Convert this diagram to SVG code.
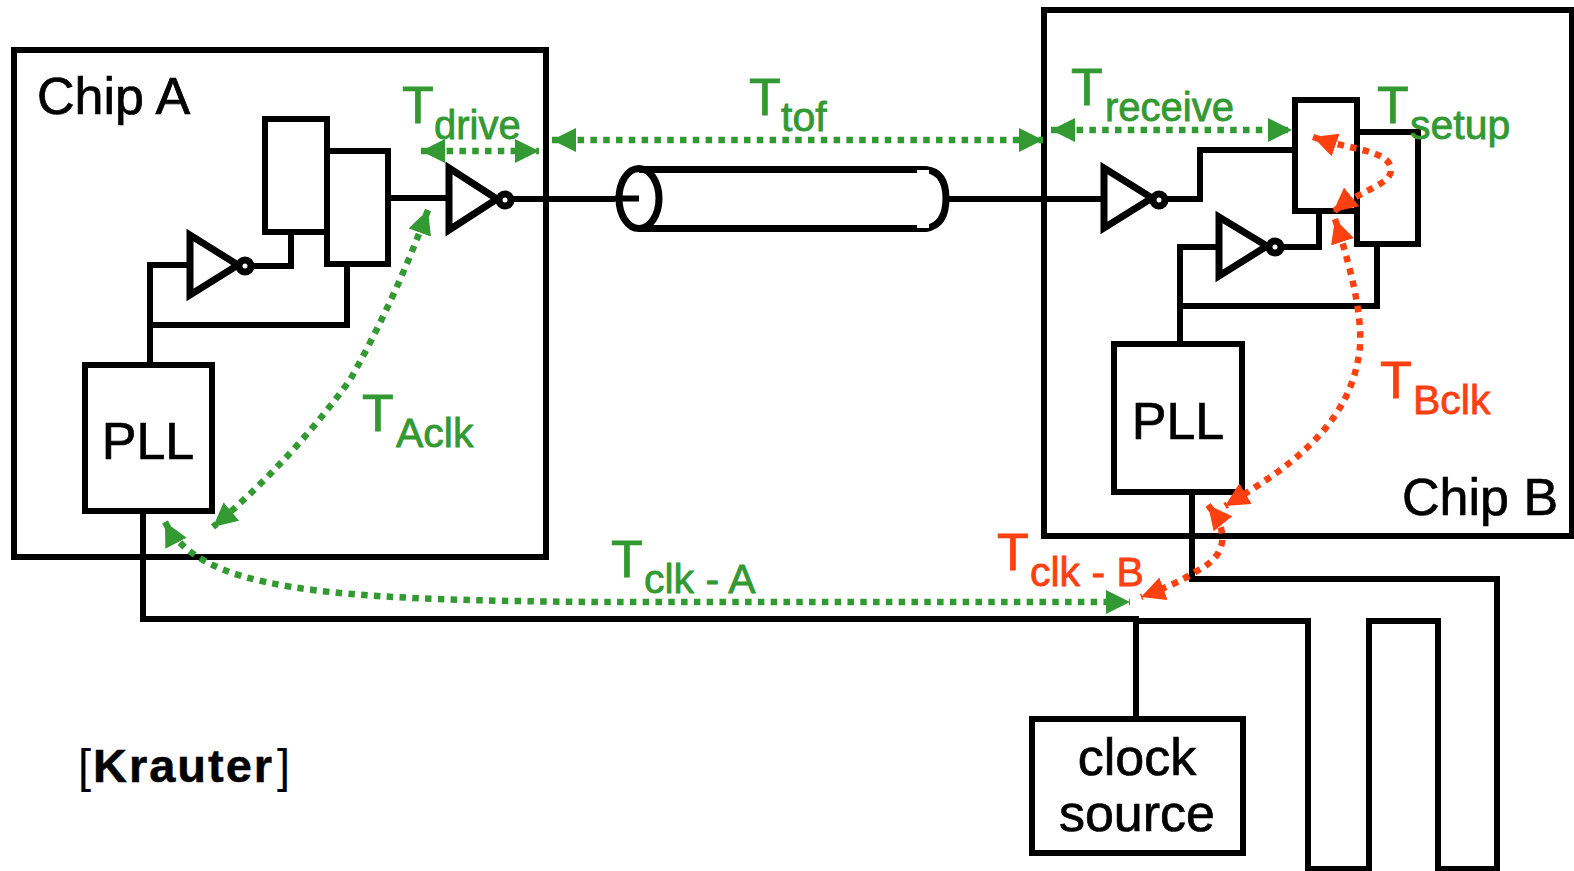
<svg xmlns="http://www.w3.org/2000/svg" width="1574" height="871" viewBox="0 0 1574 871">
<defs>
<marker id="g" markerUnits="userSpaceOnUse" markerWidth="26" markerHeight="26" refX="24" refY="12" orient="auto-start-reverse"><path d="M0 0L24 12L0 24Z" fill="#339933"/></marker>
<marker id="r" markerUnits="userSpaceOnUse" markerWidth="26" markerHeight="26" refX="24" refY="12" orient="auto-start-reverse"><path d="M0 0L24 12L0 24Z" fill="#ff4010"/></marker>
</defs>
<style>
.w{fill:none;stroke:#000;stroke-width:6}
.b{fill:none;stroke:#000;stroke-width:6}
.f{fill:#fff;stroke:#000;stroke-width:6}
.i{fill:#fff;stroke:#000;stroke-width:7}
.dg{fill:none;stroke:#339933;stroke-width:6.5;stroke-dasharray:6.5 6.3;marker-start:url(#g);marker-end:url(#g)}
.dr{fill:none;stroke:#ff4010;stroke-width:6.5;stroke-dasharray:6.5 6.3;marker-start:url(#r);marker-end:url(#r)}
text{font-family:"Liberation Sans",Arial,sans-serif}
.k{fill:#000;stroke:#000;stroke-width:.7;font-size:52px}
.gt{fill:#339933;stroke:#339933;stroke-width:.8}
.rt{fill:#ff4010;stroke:#ff4010;stroke-width:.8}
.T{font-size:52px}
.s{font-size:41px}
.s2{font-size:40px}
.c{font-size:47px;fill:#000}
</style>
<rect width="1574" height="871" fill="#fff"/>
<g id="connectors">
<path class="w" d="M388 198H449M512 199H615"/>
<path class="w" d="M190 265H150V365M150 325H347V264M252 266H291V232"/>
<path class="w" d="M946 199H1104M1166 199H1200V150H1295"/>
<path class="w" d="M1219 247H1180V344M1180 306H1377V243M1281 247H1319V211"/>
<path class="w" d="M143 511V619H1136V719M1136 621H1308V869H1369V621H1438V869H1497V579H1192V492"/>
</g>
<g id="chip-a"><rect class="b" x="14" y="50" width="532" height="507"/><text class="k" x="37" y="114">Chip A</text></g>
<g id="chip-b"><rect class="b" x="1044" y="10" width="528" height="526"/><text class="k" x="1402" y="515">Chip B</text></g>
<g id="reg-a1"><rect class="f" x="265" y="119" width="62" height="113"/></g>
<g id="reg-a2"><rect class="f" x="327" y="151" width="61" height="113"/></g>
<g id="inv-a1"><path class="i" d="M190 235V295L238 265Z"/><circle class="i" cx="245" cy="266" r="6"/></g>
<g id="inv-a2"><path class="i" d="M449 168V230L497 199Z"/><circle class="i" cx="505" cy="200" r="6"/></g>
<g id="pll-a"><rect class="f" x="85" y="365" width="127" height="146"/><text class="k" x="148" y="459" text-anchor="middle">PLL</text></g>
<g id="pll-b"><rect class="f" x="1114" y="344" width="128" height="148"/><text class="k" x="1178" y="439" text-anchor="middle">PLL</text></g>
<g id="reg-b2"><rect class="f" x="1357" y="132" width="61" height="112"/></g>
<g id="reg-b1"><rect class="f" x="1295" y="100" width="62" height="111"/></g>
<g id="inv-b1"><path class="i" d="M1104 168V228L1152 198Z"/><circle class="i" cx="1159" cy="200" r="6"/></g>
<g id="inv-b2"><path class="i" d="M1219 217V276L1267 246Z"/><circle class="i" cx="1275" cy="247" r="6"/></g>
<g id="clock-source"><rect class="f" x="1032" y="719" width="211" height="134"/><text class="k" x="1137" y="775" text-anchor="middle">clock</text><text class="k" x="1137" y="831" text-anchor="middle">source</text></g>
<g id="line">
<path d="M639 169.500H926Q946 172 946 198.500Q946 225 926 228.500H639" fill="#fff" stroke="#000" stroke-width="7"/>
<ellipse cx="639" cy="198.500" rx="20" ry="30" fill="none" stroke="#000" stroke-width="7"/>
<path class="w" d="M615 198.500H639"/>
<path d="M917 170H929V174H917ZM917 224H929V228H917Z" fill="#fff"/>
</g>
<g id="timing">
<path class="dg" d="M428 210Q395 300 350 380Q290 462 213 527"/>
<path class="dg" d="M165 522C200 590 320 600 600 602H1130"/>
<path class="dg" d="M421 151H539"/>
<path class="dg" d="M552 140H1043"/>
<path class="dg" d="M1051 130H1292"/>
<path class="dr" d="M1313 137C1350 150 1391 150 1391 170C1391 185 1360 190 1333 212"/>
<path class="dr" d="M1335 219C1355 280 1365 330 1358 360C1345 430 1285 470 1225 506"/>
<path class="dr" d="M1208 505C1228 530 1230 555 1195 572C1180 582 1160 590 1141 597"/>
</g>
<g id="labels">
<text class="gt T" x="402" y="123">T</text><text class="gt s2" x="434" y="139">drive</text>
<text class="gt T" x="749" y="115">T</text><text class="gt s" x="781" y="131">tof</text>
<text class="gt T" x="1071" y="105">T</text><text class="gt s2" x="1105" y="121">receive</text>
<text class="gt T" x="1377" y="123">T</text><text class="gt s" x="1410" y="139">setup</text>
<text class="gt T" x="362" y="431">T</text><text class="gt s" x="396" y="447">Aclk</text>
<text class="gt T" x="611" y="577">T</text><text class="gt s" x="644" y="593">clk - A</text>
<text class="rt T" x="997" y="570">T</text><text class="rt s" x="1030" y="586">clk - B</text>
<text class="rt T" x="1380" y="398">T</text><text class="rt s" x="1413" y="414">Bclk</text>
<text class="c" x="78" y="782">[</text>
<text class="c" x="93" y="782" font-weight="bold" letter-spacing="2" stroke="#000" stroke-width=".5">Krauter</text>
<text class="c" x="290" y="782" text-anchor="end">]</text>
</g>
</svg>
